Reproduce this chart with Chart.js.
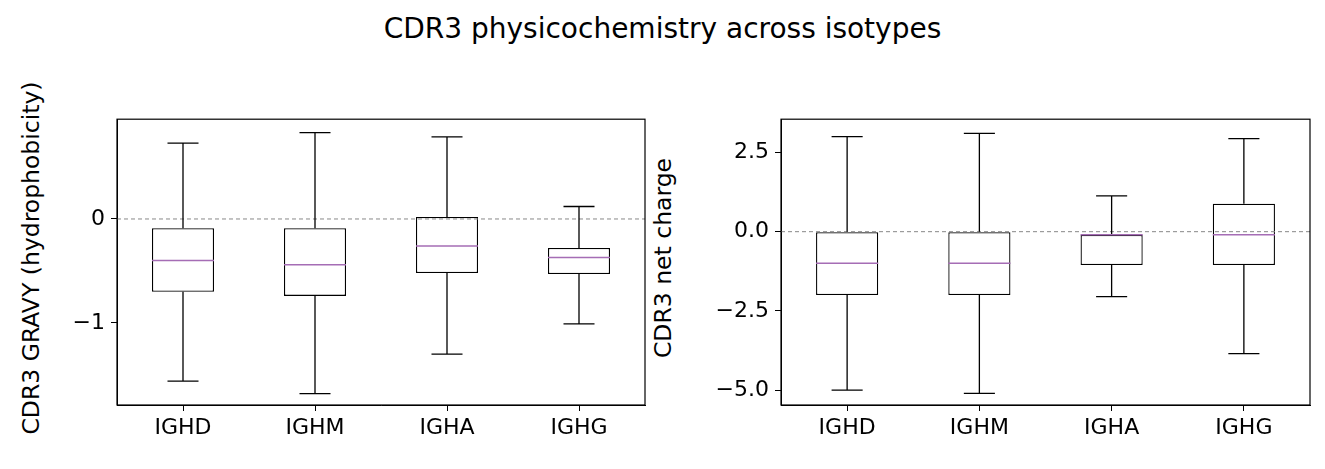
<!DOCTYPE html>
<html><head><meta charset="utf-8">
<script src="https://cdn.jsdelivr.net/npm/chart.js@4/dist/chart.umd.min.js"></script>
<style>
body{margin:0;width:1325px;height:469px;position:relative;overflow:hidden;background:#fff;font-family:"DejaVu Sans",sans-serif}
.t{position:absolute;white-space:nowrap;color:#000}
canvas{position:absolute}
</style></head><body>
<div class="t" style="left:0;width:1325px;top:12px;text-align:center;font-size:28px">CDR3 physicochemistry across isotypes</div>
<div class="t" style="left:31px;top:258px;font-size:23.5px;transform:translate(-50%,-50%) rotate(-90deg)">CDR3 GRAVY (hydrophobicity)</div>
<div class="t" style="left:663px;top:258px;font-size:23.5px;transform:translate(-50%,-50%) rotate(-90deg)">CDR3 net charge</div>
<div style="position:absolute;left:0;top:100px;width:655px;height:369px"><canvas id="c1"></canvas></div>
<div style="position:absolute;left:655px;top:100px;width:670px;height:369px"><canvas id="c2"></canvas></div>
<script>
const isotypes = ['IGHD', 'IGHM', 'IGHA', 'IGHG'];
// [low whisker, q1, median, q3, high whisker]
const gravyStats = [
  [-1.56, -0.70, -0.40, -0.09, 0.73],
  [-1.68, -0.74, -0.44, -0.09, 0.83],
  [-1.30, -0.52, -0.26, 0.02, 0.79],
  [-1.01, -0.53, -0.37, -0.28, 0.12]
];
const chargeStats = [
  [-5.0, -2.0, -1.0, 0.0, 3.0],
  [-5.1, -2.0, -1.0, 0.0, 3.1],
  [-2.05, -1.05, -0.1, -0.1, 1.13],
  [-3.85, -1.05, -0.1, 0.88, 2.94]
];
const gravyTicks = [-1, 0];
const chargeTicks = [-5, -2.5, 0, 2.5];

const boxPlugin = {
  id: 'box',
  afterDatasetsDraw(chart) {
    const {ctx, chartArea: a, scales: {x, y}} = chart;
    const stats = chart.options.plugins.box.stats;
    const meta = chart.getDatasetMeta(0);
    ctx.save();
    ctx.strokeStyle = '#888'; ctx.lineWidth = 1; ctx.setLineDash([4, 3]);
    ctx.beginPath(); ctx.moveTo(a.left, y.getPixelForValue(0)); ctx.lineTo(a.right, y.getPixelForValue(0)); ctx.stroke();
    ctx.setLineDash([]);
    stats.forEach((s, i) => {
      const bar = meta.data[i];
      const cx = x.getPixelForValue(i), hw = bar.width / 2, cw = hw / 2;
      ctx.strokeStyle = '#000'; ctx.lineWidth = 1.3;
      ctx.beginPath();
      ctx.moveTo(cx, y.getPixelForValue(s[1])); ctx.lineTo(cx, y.getPixelForValue(s[0]));
      ctx.moveTo(cx, y.getPixelForValue(s[3])); ctx.lineTo(cx, y.getPixelForValue(s[4]));
      ctx.moveTo(cx - cw, y.getPixelForValue(s[0])); ctx.lineTo(cx + cw, y.getPixelForValue(s[0]));
      ctx.moveTo(cx - cw, y.getPixelForValue(s[4])); ctx.lineTo(cx + cw, y.getPixelForValue(s[4]));
      ctx.stroke();
      ctx.strokeStyle = '#a56db5'; ctx.lineWidth = 1.5;
      ctx.beginPath(); ctx.moveTo(cx - hw, y.getPixelForValue(s[2])); ctx.lineTo(cx + hw, y.getPixelForValue(s[2])); ctx.stroke();
    });
    ctx.strokeStyle = '#000'; ctx.lineWidth = 1.2;
    ctx.strokeRect(a.left, a.top, a.right - a.left, a.bottom - a.top);
    ctx.restore();
  }
};

function makeChart(id, stats, ticks, min, max, yWidth, padRight, fmt) {
  new Chart(document.getElementById(id), {
    type: 'bar',
    data: {
      labels: isotypes,
      datasets: [{
        data: stats.map(s => [s[1], s[3]]),
        backgroundColor: '#fff', borderColor: '#000', borderWidth: 1.3,
        borderSkipped: false, barPercentage: 0.47, categoryPercentage: 1
      }]
    },
    options: {
      responsive: true, maintainAspectRatio: false, animation: false,
      layout: {padding: {top: 10, right: padRight}},
      plugins: {legend: {display: false}, tooltip: {enabled: false}, box: {stats}},
      scales: {
        x: {
          grid: {drawOnChartArea: false, tickLength: 6, color: '#000', offset: false},
          border: {color: '#000'},
          ticks: {color: '#000', font: {size: 22, family: 'DejaVu Sans'}, padding: 4},
          afterFit: s => { s.height = 64; }
        },
        y: {
          min, max,
          grid: {drawOnChartArea: false, tickLength: 6, color: '#000'},
          border: {color: '#000'},
          ticks: {color: '#000', font: {size: 22, family: 'DejaVu Sans'}, padding: 6,
                  callback: v => fmt(v).replace('-', '\u2212')},
          afterBuildTicks: s => { s.ticks = ticks.map(v => ({value: v})); },
          afterFit: s => { s.width = yWidth; }
        }
      }
    },
    plugins: [boxPlugin]
  });
}

makeChart('c1', gravyStats, gravyTicks, -1.79, 0.96, 117, 10, v => String(v));
makeChart('c2', chargeStats, chargeTicks, -5.47, 3.55, 126, 15, v => v.toFixed(1));
</script>
</body></html>
